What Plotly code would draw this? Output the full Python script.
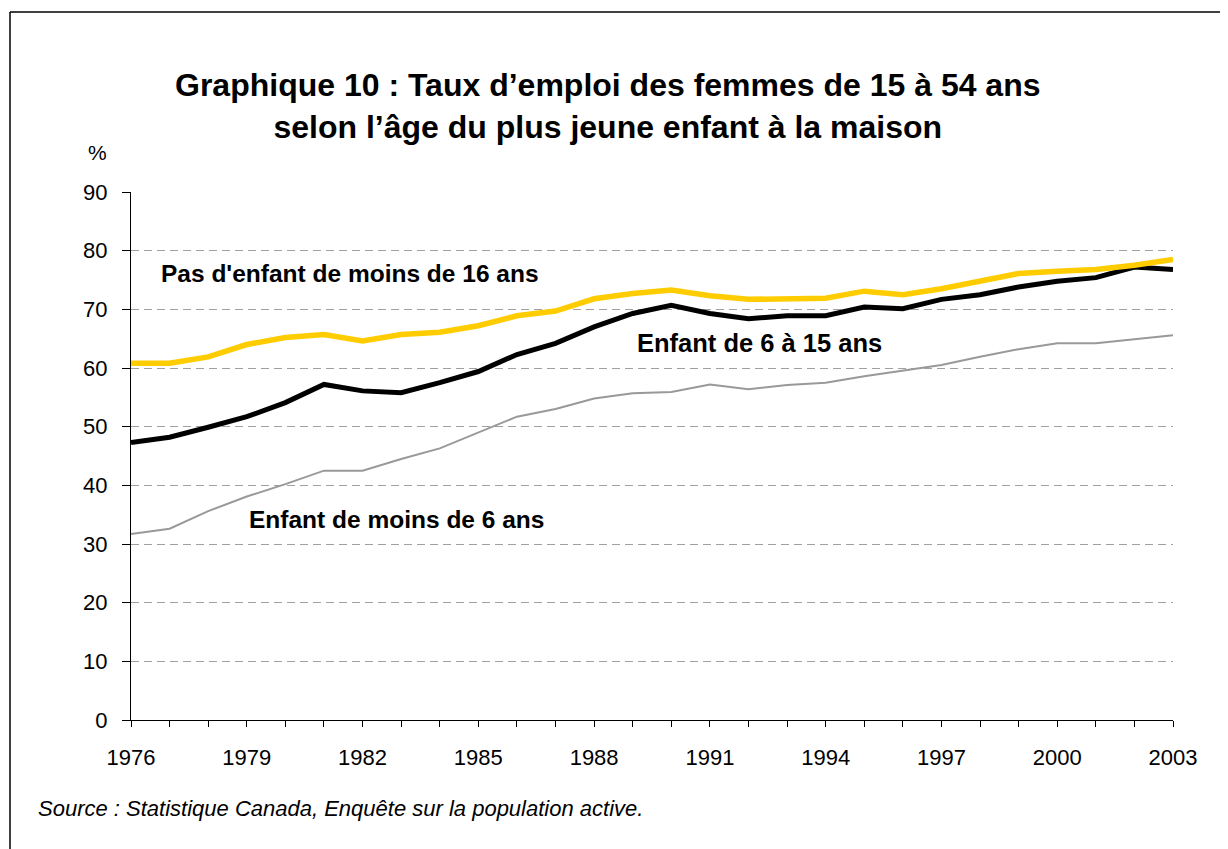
import plotly.graph_objects as go

years = list(range(1976, 2004))
pas_enfant = [60.8, 60.8, 61.9, 64.0, 65.2, 65.7, 64.6, 65.7, 66.1, 67.2, 68.9, 69.7, 71.8, 72.7, 73.3,
              72.3, 71.7, 71.7, 71.9, 73.1, 72.5, 73.5, 74.9, 76.1, 76.5, 76.8, 77.5, 78.5]
enfant_6_15 = [47.3, 48.2, 49.9, 51.7, 54.1, 57.2, 56.1, 55.8, 57.5, 59.4, 62.3, 64.2, 67.0, 69.3, 70.7,
               69.3, 68.4, 68.9, 68.9, 70.4, 70.1, 71.7, 72.5, 73.8, 74.8, 75.4, 77.2, 76.8]
enfant_moins_6 = [31.7, 32.6, 35.6, 38.1, 40.2, 42.5, 42.5, 44.5, 46.3, 49.0, 51.7, 53.0, 54.8, 55.7, 55.9,
                  57.2, 56.4, 57.1, 57.5, 58.6, 59.5, 60.5, 61.9, 63.2, 64.2, 64.2, 64.9, 65.6]
x_tick_labels = [1976, 1979, 1982, 1985, 1988, 1991, 1994, 1997, 2000, 2003]
y_ticks = [0, 10, 20, 30, 40, 50, 60, 70, 80, 90]

OFF = 8  # page body margin
W, H = 1228 - OFF, 849 - OFF
L, R, T, B = 131, 1173, 192, 720  # window pixel coords of plot area

def px(xp):
    return (xp - L) / (R - L)

def py(yp):
    return (B - yp) / (B - T)

FONT = "Liberation Sans, Arial, sans-serif"

fig = go.Figure()
fig.add_trace(go.Scatter(x=years, y=enfant_moins_6, mode="lines",
                         line=dict(color="#999999", width=2), showlegend=False))
fig.add_trace(go.Scatter(x=years, y=enfant_6_15, mode="lines",
                         line=dict(color="#000000", width=5), showlegend=False))
fig.add_trace(go.Scatter(x=years, y=pas_enfant, mode="lines",
                         line=dict(color="#FFCC00", width=5.5), showlegend=False))

fig.update_layout(
    width=W, height=H,
    margin=dict(l=L - OFF, r=1228 - R, t=T - OFF, b=849 - B),
    paper_bgcolor="white", plot_bgcolor="white",
    font=dict(family=FONT, color="black"),
    showlegend=False,
    xaxis=dict(range=[1976, 2003], tickvals=x_tick_labels, ticktext=[str(v) for v in x_tick_labels],
               ticks="outside", ticklen=6, tickcolor="black", tickwidth=1, ticklabelstandoff=12,
               minor=dict(dtick=1, tick0=1976, ticks="outside", ticklen=6, tickcolor="black", showgrid=False),
               showline=True, linecolor="black", linewidth=1, showgrid=False, zeroline=False,
               tickfont=dict(size=22, family=FONT), fixedrange=True),
    yaxis=dict(range=[0, 90], tickvals=y_ticks, ticks="outside", ticklen=8, tickcolor="black",
               ticklabelstandoff=10,
               showline=True, linecolor="black", linewidth=1,
               showgrid=True, gridcolor="#A0A0A0", griddash="8px,5px", gridwidth=1, zeroline=False,
               tickfont=dict(size=22, family=FONT), fixedrange=True),
)

annots = [
    dict(text="<b>Graphique 10 : Taux d’emploi des femmes de 15 à 54 ans<br>selon l’âge du plus jeune enfant à la maison</b>",
         x=px(608), y=py(106), xanchor="center", yanchor="middle", font=dict(size=32), align="center"),
    dict(text="%", x=px(97), y=py(153), xanchor="center", yanchor="middle", font=dict(size=21)),
    dict(text="<b>Pas d'enfant de moins de 16 ans</b>", x=px(159), y=py(273), xanchor="left", yanchor="middle",
         font=dict(size=24.5)),
    dict(text="<b>Enfant de 6 à 15 ans</b>", x=px(635), y=py(343), xanchor="left", yanchor="middle",
         font=dict(size=25.5)),
    dict(text="<b>Enfant de moins de 6 ans</b>", x=px(247), y=py(519), xanchor="left", yanchor="middle",
         font=dict(size=24.5)),
    dict(text="<i>Source : Statistique Canada, Enquête sur la population active.</i>", x=px(36), y=py(808),
         xanchor="left", yanchor="middle", font=dict(size=22)),
]
for a in annots:
    fig.add_annotation(xref="paper", yref="paper", showarrow=False, **a)

fig.add_shape(type="line", xref="paper", yref="paper", x0=px(10), x1=px(10), y0=py(12), y1=py(870),
              line=dict(color="black", width=1.5))
fig.add_shape(type="line", xref="paper", yref="paper", x0=px(10), x1=px(1260), y0=py(12), y1=py(12),
              line=dict(color="black", width=1.5))

fig.write_html("out.html")
